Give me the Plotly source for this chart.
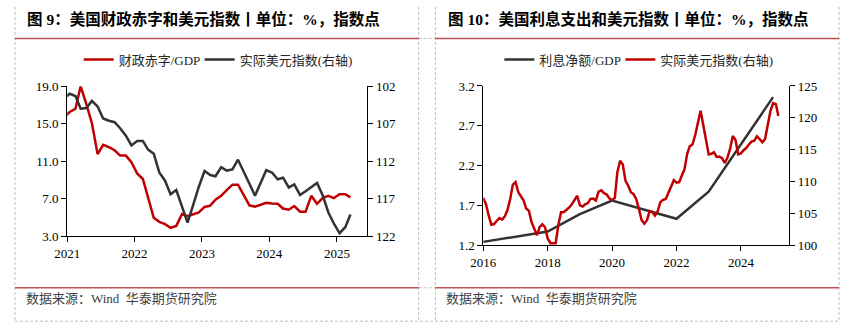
import pandas as pd
import plotly.graph_objects as go

W, H = 841, 333

# ---------------- Data: Figure 9 ----------------
f9_months = pd.date_range("2020-12-01", "2025-03-01", freq="MS") + pd.Timedelta(days=14)
deficit_gdp = [15.7, 16.25, 16.6, 19.0, 17.1, 15.06, 11.76, 12.75, 12.5, 12.17, 11.6, 11.6, 10.9,
               9.7, 9.1, 7.07, 4.97, 4.53, 4.29, 3.9, 4.1, 5.37, 5.14, 5.34, 5.54,
               6.12, 6.26, 6.9, 7.31, 7.92, 8.5, 8.5, 7.31, 6.29, 6.16, 6.4, 6.56,
               6.5, 6.46, 5.95, 5.82, 6.22, 5.61, 5.61, 7.31, 6.46, 7.07, 7.31, 7.07,
               7.48, 7.48, 7.14]
real_usd_f9 = [103.6, 103.0, 103.3, 105.0, 104.9, 103.95, 104.7, 106.3, 106.6, 106.8, 107.6, 108.6, 109.9,
               109.3, 109.3, 110.45, 111.0, 113.5, 114.6, 116.4, 115.85, 118.0, 120.2, 117.8, 115.4,
               113.3, 113.85, 114.0, 112.8, 113.25, 113.1, 111.8, 113.5, 115.0, 116.6, 114.8, 113.2,
               113.5, 114.4, 114.2, 115.5, 115.1, 116.5, 116.0, 115.4, 114.9, 116.5, 118.8, 120.3,
               121.6, 120.8, 119.1]
f9_xticks = ["2021", "2022", "2023", "2024", "2025"]

# ---------------- Data: Figure 10 ----------------
f10_months = pd.date_range("2016-01-01", "2025-03-01", freq="MS")
real_usd_f10 = [107.4, 106.4, 104.7, 103.2, 103.3, 103.85, 104.25, 104.0, 104.5, 105.5, 107.25, 109.5,
                109.9, 108.3, 107.75, 107.05, 105.75, 105.4, 103.6, 102.45, 101.55, 102.85, 103.25, 102.8,
                101.0, 100.3, 100.3, 100.3, 103.15, 105.15, 105.15, 105.5, 105.9, 106.4, 107.2, 107.75,
                106.25, 106.05, 106.4, 106.6, 107.25, 107.3, 107.0, 108.4, 108.6, 108.15, 107.95, 107.35,
                107.05, 107.4, 111.5, 113.25, 112.65, 110.1, 109.35, 108.3, 108.0, 107.2, 105.65, 103.9,
                103.35, 103.95, 105.3, 105.2, 104.65, 105.3, 106.75, 107.1, 107.25, 108.15, 109.15, 110.2,
                109.8, 109.9, 110.9, 111.9, 114.3, 115.55, 115.8, 117.3, 119.25, 121.1, 118.8, 116.5,
                114.25, 114.35, 114.6, 113.85, 113.9, 113.65, 112.9, 113.7, 115.15, 117.15, 116.5, 114.25,
                114.4, 114.9, 115.25, 115.8, 116.25, 116.4, 117.1, 116.65, 116.15, 116.65, 119.25, 121.05,
                122.3, 122.15, 120.3]
interest_dates = ["2015-12-31", "2017-12-31", "2018-12-31", "2019-12-31", "2021-12-31", "2022-12-31", "2024-12-31"]
interest_gdp = [1.24, 1.37, 1.59, 1.76, 1.53, 1.87, 3.06]

RED = "#C00000"
DARK = "#333333"
SERIF = "Liberation Serif, Noto Sans CJK SC"


def px(p):
    return p / W


def py(p):
    return 1 - p / H


fig = go.Figure()

fig.add_trace(go.Scatter(x=f9_months, y=deficit_gdp, name="财政赤字/GDP", mode="lines",
                         line=dict(color=RED, width=2.5), xaxis="x", yaxis="y",
                         legend="legend", legendwidth=76))
fig.add_trace(go.Scatter(x=f9_months, y=real_usd_f9, name="实际美元指数(右轴)", mode="lines",
                         line=dict(color=DARK, width=2.5), xaxis="x", yaxis="y2", legend="legend"))
fig.add_trace(go.Scatter(x=interest_dates, y=interest_gdp, name="利息净额/GDP", mode="lines",
                         line=dict(color=DARK, width=2.5), xaxis="x2", yaxis="y3",
                         legend="legend2", legendwidth=76))
fig.add_trace(go.Scatter(x=f10_months, y=real_usd_f10, name="实际美元指数(右轴)", mode="lines",
                         line=dict(color=RED, width=2.5), xaxis="x2", yaxis="y4", legend="legend2"))

axis_common = dict(showline=True, linecolor="black", linewidth=1, ticks="outside", ticklen=5,
                   tickcolor="black", showgrid=False, zeroline=False,
                   tickfont=dict(family=SERIF, size=13, color="black"))

legend_common = dict(orientation="h", xanchor="left", yanchor="middle",
                     font=dict(family=SERIF, size=13, color="#262626"), bgcolor="rgba(0,0,0,0)",
                     itemwidth=30, tracegroupgap=0)

fig.update_layout(
    width=W, height=H, margin=dict(l=0, r=0, t=0, b=0),
    paper_bgcolor="white", plot_bgcolor="white", hovermode=False,
    xaxis=dict(domain=[px(55), px(360)], anchor="y", type="date",
               range=["2021-01-01", "2025-06-15"],
               tickvals=[f"{y}-01-01" for y in f9_xticks], ticktext=f9_xticks, **axis_common),
    yaxis=dict(domain=[py(240), py(83)], anchor="x", range=[3, 19],
               tickvals=[3, 7, 11, 15, 19], tickformat=".1f", **axis_common),
    yaxis2=dict(domain=[py(240), py(83)], anchor="x", overlaying="y", side="right",
                range=[122, 102], tickvals=[102, 107, 112, 117, 122], **axis_common),
    xaxis2=dict(domain=[px(477.7), px(788.3)], anchor="y3", type="date",
                range=["2016-01-01", "2025-07-01"], dtick="M24", tick0="2016-01-01",
                tickformat="%Y", **axis_common),
    yaxis3=dict(domain=[py(249.3), py(82.7)], anchor="x2", range=[1.2, 3.2],
                tickvals=[1.2, 1.7, 2.2, 2.7, 3.2], tickformat=".1f", **axis_common),
    yaxis4=dict(domain=[py(249.3), py(82.7)], anchor="x2", overlaying="y3", side="right",
                range=[100, 125], tickvals=[100, 105, 110, 115, 120, 125], **axis_common),
    legend=dict(x=px(66.7), y=py(55), **legend_common),
    legend2=dict(x=px(494), y=py(55), **legend_common),
)

shapes = []
dash_style = dict(color="#BFBFBF", width=1, dash="3px,2px")
for xv in [2, 412, 429, 839]:
    shapes.append(dict(type="line", xref="paper", yref="paper", x0=px(xv), x1=px(xv),
                       y0=py(0), y1=py(329), line=dash_style))
shapes.append(dict(type="line", xref="paper", yref="paper", x0=px(2), x1=px(839),
                   y0=py(329), y1=py(329), line=dash_style))
for yv in [33, 294]:
    shapes.append(dict(type="line", xref="paper", yref="paper", x0=px(412), x1=px(429),
                       y0=py(yv), y1=py(yv), line=dash_style))
    for (a, b) in [(2, 412), (429, 839)]:
        shapes.append(dict(type="line", xref="paper", yref="paper", x0=px(a), x1=px(b),
                           y0=py(yv), y1=py(yv), line=dict(color="#C0504D", width=1.5)))
fig.update_layout(shapes=shapes)

annotations = [
    dict(text="<b>图 9：美国财政赤字和美元指数丨单位：%，指数点</b>", x=px(12), y=py(13)),
    dict(text="<b>图 10：美国利息支出和美元指数丨单位：%，指数点</b>", x=px(440), y=py(13)),
]
for a in annotations:
    a.update(xref="paper", yref="paper", xanchor="left", yanchor="middle", showarrow=False,
             font=dict(family=SERIF, size=15.5, color="black"))
for xv in [11, 438]:
    annotations.append(dict(text="数据来源：Wind  华泰期货研究院", x=px(xv), y=py(305),
                            xref="paper", yref="paper", xanchor="left", yanchor="middle",
                            showarrow=False, font=dict(family=SERIF, size=13, color="#404040")))
fig.update_layout(annotations=annotations)

fig.write_html("out.html", config={"displayModeBar": False})
